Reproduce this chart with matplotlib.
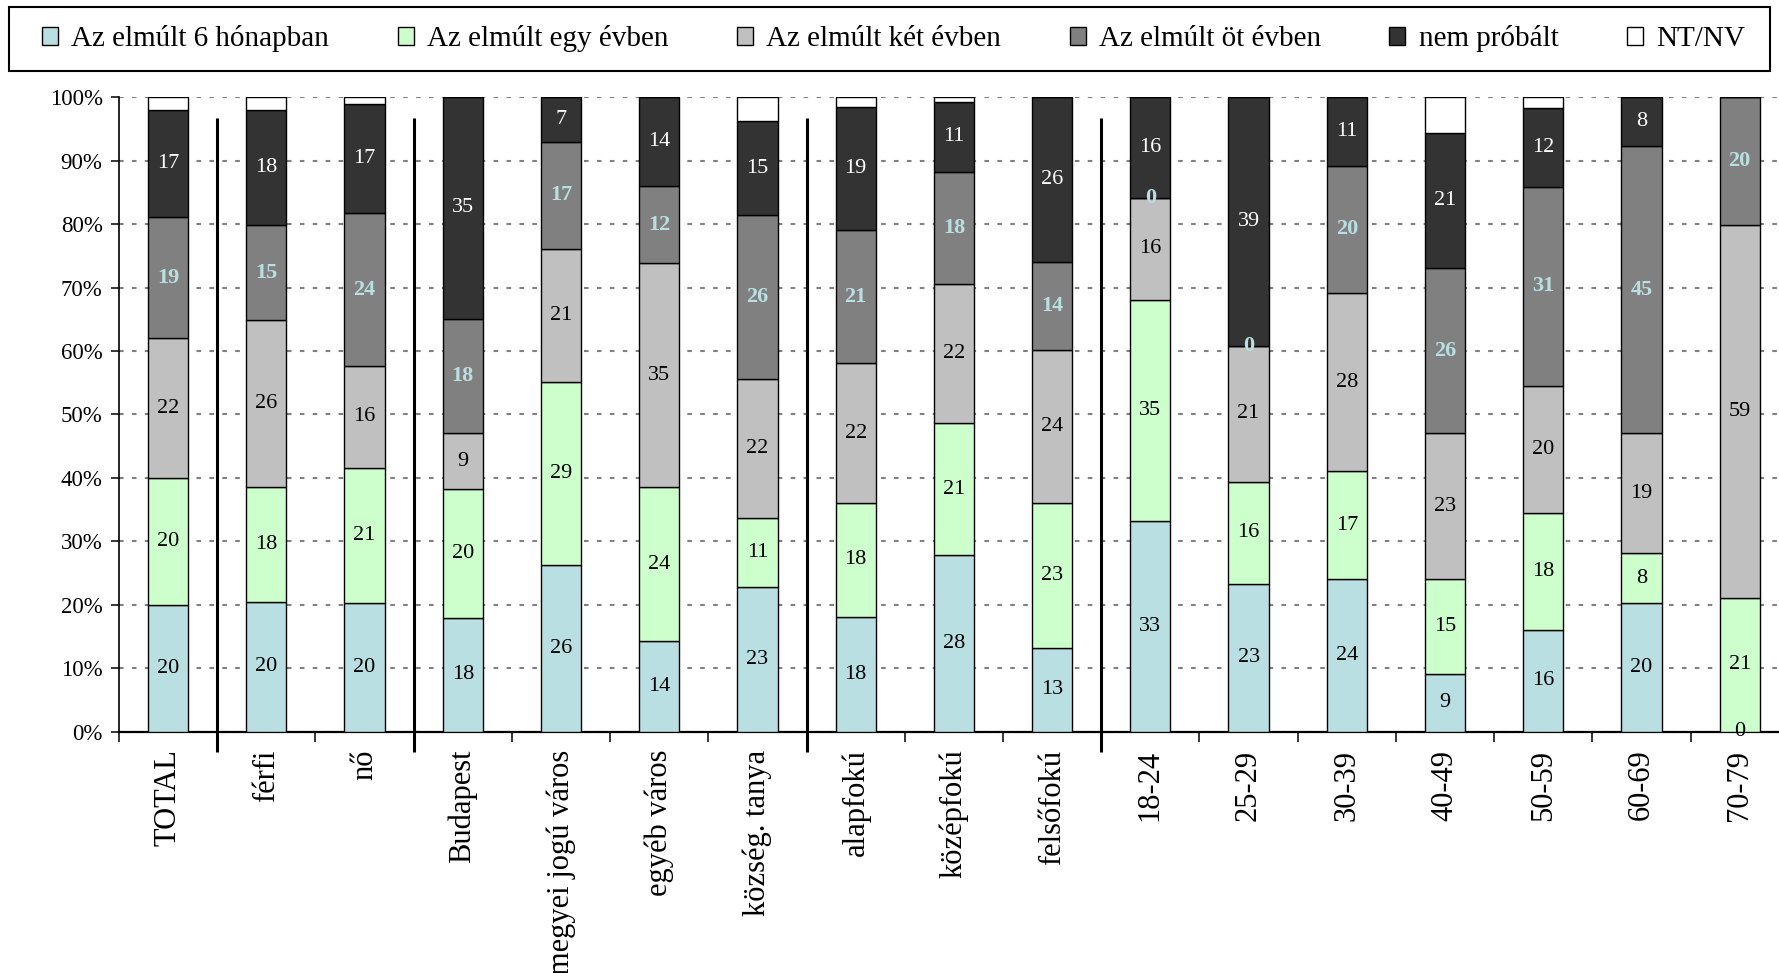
import numpy as np
import matplotlib
matplotlib.use("Agg")
import matplotlib.pyplot as plt
from matplotlib.patches import Patch, Rectangle

plt.rcParams["font.family"] = ["Liberation Serif", "DejaVu Serif"]

# --- data (percent of respondents) -------------------------------------------
categories = ["TOTAL", "férfi", "nő", "Budapest", "megyei jogú város",
              "egyéb város", "község. tanya", "alapfokú", "középfokú",
              "felsőfokú", "18-24", "25-29", "30-39", "40-49", "50-59",
              "60-69", "70-79"]
series_names = ["Az elmúlt 6 hónapban", "Az elmúlt egy évben",
                "Az elmúlt két évben", "Az elmúlt öt évben", "nem próbált",
                "NT/NV"]
six_months = [20, 20.4, 20.2, 17.9, 26.3, 14.3, 22.8, 18.1, 27.8, 13.1,
              33.2, 23.3, 24.0, 9.1, 16.0, 20.3, 0]
one_year = [20, 18.2, 21.4, 20.3, 28.8, 24.2, 10.9, 17.9, 20.8, 22.9,
            34.9, 16.1, 17.0, 14.9, 18.4, 7.8, 21.1]
two_years = [22, 26.3, 16.0, 8.8, 21.0, 35.3, 21.9, 22.1, 22.0, 24.2,
             16.0, 21.4, 28.2, 23.0, 20.1, 18.9, 58.8]
five_years = [19.1, 14.9, 24.1, 18.1, 16.9, 12.2, 25.8, 20.9, 17.6, 13.8,
              0, 0, 20.0, 26.1, 31.4, 45.3, 20.1]
never_tried = [16.9, 18.2, 17.3, 34.9, 7.0, 14.0, 14.8, 19.4, 11.1, 26.0,
               15.9, 39.2, 10.8, 21.2, 12.4, 7.7, 0]
no_answer = [2.0, 2.0, 1.0, 0, 0, 0, 3.8, 1.6, 0.7, 0, 0, 0, 0, 5.7, 1.7,
             0, 0]
group_breaks = [0.5, 2.5, 6.5, 9.5]

colors = ["#BADFE2", "#CCFFCC", "#C0C0C0", "#808080", "#333333", "#FFFFFF"]
label_colors = ["black", "black", "black", "#BADFE2", "white", None]
label_weights = ["normal", "normal", "normal", "bold", "normal", "normal"]

W, H = 1779, 973
fig = plt.figure(figsize=(W / 100, H / 100), dpi=100)
ax = fig.add_axes([119 / W, 1 - 731.5 / H, 1 - 119 / W, (731.5 - 97.3) / H])

x = np.arange(len(categories))
bottom = np.zeros(len(categories))
all_series = [six_months, one_year, two_years, five_years, never_tried, no_answer]
for vals, col, lcol, lw in zip(all_series, colors, label_colors, label_weights):
    vals = np.array(vals, dtype=float)
    ax.bar(x, vals, width=0.41, bottom=bottom, color=col, edgecolor="black",
           linewidth=1.0, zorder=3)
    if lcol is not None:
        for xi, v, b in zip(x, vals, bottom):
            if v == 0 and lcol == "white":
                continue
            ax.text(xi, b + v / 2, f"{v:.0f}", ha="center", va="center",
                    color=lcol, fontsize=16, fontweight=lw, zorder=5,
                    clip_on=False)
    bottom += vals

# group separators
for b in group_breaks:
    ax.plot([b, b], [-3.2, 96.7], color="black", lw=2.2, clip_on=False,
            zorder=4, solid_capstyle="butt")

ax.set_xlim(-0.5, 16.4)
ax.set_ylim(0, 100)

ax.set_yticks(np.arange(0, 101, 10))
ax.set_yticklabels([f"{t}%" for t in range(0, 101, 10)], fontsize=16.5)
ax.tick_params(axis="y", direction="out", length=5.8, width=1.1, pad=6)
ax.grid(axis="y", color="#808080", linestyle=(0, (2.2, 4.0)), linewidth=1.5)
ax.set_axisbelow(True)

ax.set_xticks(np.arange(-0.5, 16.5, 1))
ax.set_xticklabels([])
ax.tick_params(axis="x", which="major", direction="out", length=7.2, width=1.1)
ax.set_xticks(x, minor=True)
ax.set_xticklabels(categories, minor=True, rotation=90, fontsize=22,
                   ha="center", va="top")
ax.tick_params(axis="x", which="minor", length=0, pad=13)

for side in ("top", "right"):
    ax.spines[side].set_visible(False)
ax.spines["left"].set_linewidth(1.2)
ax.spines["bottom"].set_linewidth(1.6)

# legend with a plain rectangular frame
handles = [Patch(facecolor=c, edgecolor="black", linewidth=1.0) for c in colors]
fig.legend(handles, series_names, loc="center",
           bbox_to_anchor=(42 / W, 1 - 71 / H, (1745 - 42) / W, 64 / H),
           mode="expand", ncol=6, frameon=False, fontsize=21,
           handlelength=0.55, handleheight=0.55, handletextpad=0.45,
           borderpad=0, borderaxespad=0)
fig.patches.append(Rectangle((9 / W, 1 - 71 / H), 1761 / W, 64 / H,
                             transform=fig.transFigure, fill=False,
                             edgecolor="black", lw=1.5))

fig.savefig("out.png", dpi=100)
